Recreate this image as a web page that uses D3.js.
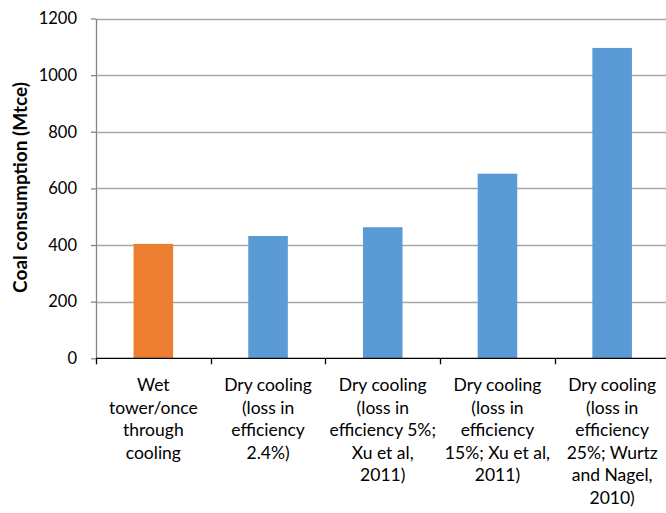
<!DOCTYPE html>
<html><head><meta charset="utf-8">
<script src="https://cdn.jsdelivr.net/npm/d3@7"></script>
<style>
body{margin:0;background:#fff;}
text{font-family:Lato,"Open Sans",sans-serif;}
</style></head>
<body><svg id="c" width="666" height="513"></svg>
<script>
const categories = [
  ["Wet","tower/once","through","cooling"],
  ["Dry cooling","(loss in","efficiency","2.4%)"],
  ["Dry cooling","(loss in","efficiency 5%;","Xu et al,","2011)"],
  ["Dry cooling","(loss in","efficiency","15%; Xu et al,","2011)"],
  ["Dry cooling","(loss in","efficiency","25%; Wurtz","and Nagel,","2010)"]
];
const values = [404, 432, 463, 652, 1096];
const colors = ["#ED7D31","#5B9BD5","#5B9BD5","#5B9BD5","#5B9BD5"];
const yTicks = [0,200,400,600,800,1000,1200];
const yTitle = "Coal consumption (Mtce)";

(function(){
const svg = d3.select("#c");
const mL = 96, mR = 669.5, mT = 18.5, mB = 358.3;
const ids = categories.map((d,i)=>i);
const x = d3.scaleBand().domain(ids).range([mL,mR]).paddingInner(0.655).paddingOuter(0.3275);
const xDiv = d3.scaleBand().domain(ids).range([mL,mR]).padding(0);
const y = d3.scaleLinear().domain([0,1200]).range([mB,mT]);

svg.append("g").selectAll("line").data(yTicks.filter(t=>t>0)).join("line")
  .attr("x1",mL).attr("x2",666).attr("y1",d=>Math.round(y(d))+0.5).attr("y2",d=>Math.round(y(d))+0.5)
  .attr("stroke","#A6A6A6").attr("stroke-width",1.3);

svg.append("g").selectAll("rect").data(values).join("rect")
  .attr("x",(d,i)=>x(i)).attr("width",x.bandwidth())
  .attr("y",d=>y(d)).attr("height",d=>mB-y(d))
  .attr("fill",(d,i)=>colors[i]);

const yAxis = d3.axisLeft(y).tickValues(yTicks).tickFormat(d3.format("d")).tickSize(5).tickPadding(14).tickSizeOuter(0);
const gy = svg.append("g").attr("transform",`translate(${mL},0)`).call(yAxis);
gy.select(".domain").attr("stroke","#868686").attr("stroke-width",1.3);
gy.selectAll(".tick line").attr("stroke","#868686").attr("stroke-width",1.3);
gy.selectAll(".tick text").attr("font-size",16.5).attr("fill","#000").attr("font-family","Lato,'Open Sans',sans-serif");

svg.append("line").attr("x1",mL).attr("x2",666).attr("y1",mB).attr("y2",mB)
  .attr("stroke","#000").attr("stroke-width",1.3);
svg.append("g").selectAll("line").data(ids.concat([5])).join("line")
  .attr("x1",d=>Math.round(mL + d*xDiv.step())+0.5).attr("x2",d=>Math.round(mL + d*xDiv.step())+0.5)
  .attr("y1",mB).attr("y2",mB+6).attr("stroke","#000").attr("stroke-width",1.3);

const lab = svg.append("g").selectAll("text").data(categories).join("text")
  .attr("text-anchor","middle").attr("font-size",17.5).attr("fill","#000")
  .attr("transform",(d,i)=>`translate(${x(i)+x.bandwidth()/2},${mB+33})`);
lab.selectAll("tspan").data(d=>d).join("tspan")
  .attr("x",0).attr("dy",(d,j)=>j===0?0:22.5).text(d=>d);

svg.append("text").attr("transform",`translate(27,187.5) rotate(-90)`)
  .attr("text-anchor","middle").attr("font-size",19).attr("font-weight","bold").attr("fill","#000")
  .text(yTitle);
})();
</script></body></html>
